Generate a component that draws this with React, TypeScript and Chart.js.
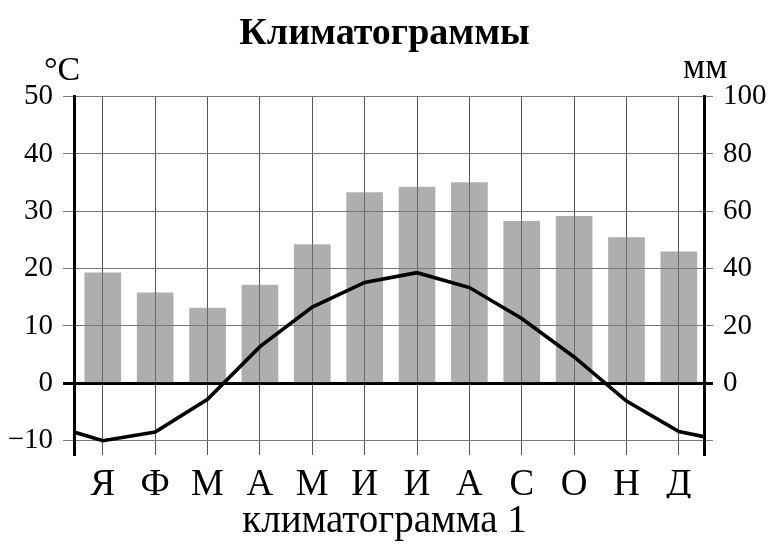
import React, { useEffect, useRef } from "react";
import { Chart, registerables } from "chart.js";

Chart.register(...registerables);

const months = ["Я", "Ф", "М", "А", "М", "И", "И", "А", "С", "О", "Н", "Д"];
const precipitation = [38.5, 31.6, 26.2, 34.3, 48.4, 66.5, 68.4, 70.0, 56.5, 58.2, 50.8, 45.9];
const temperature = [-10.0, -8.5, -2.8, 6.4, 13.3, 17.6, 19.3, 16.7, 11.3, 4.6, -3.1, -8.4];
const tempAtStart = -8.5;
const tempAtEnd = -9.3;

const X_MIN = -0.55;
const X_MAX = 11.48;
const T_MIN = -12.5;
const T_MAX = 50;
const P_MIN = -25;
const P_MAX = 100;

const titleText = "Климатограммы";
const subtitleText = "климатограмма 1";
const leftUnit = "°C";
const rightUnit = "мм";

const FONT = "'Liberation Serif', 'Times New Roman', serif";

const unitsPlugin = {
  id: "units",
  afterDraw(chart: any) {
    const ctx = chart.ctx;
    ctx.save();
    ctx.fillStyle = "#000";
    ctx.textBaseline = "alphabetic";
    ctx.textAlign = "left";
    ctx.font = `34px ${FONT}`;
    ctx.fillText(leftUnit, 44, 80);
    ctx.font = `35px ${FONT}`;
    ctx.fillText(rightUnit, 683, 78);
    ctx.restore();
  },
};

export default function App() {
  const ref = useRef<HTMLCanvasElement | null>(null);

  useEffect(() => {
    if (!ref.current) return;
    const lineData = [
      { x: X_MIN, y: tempAtStart },
      ...temperature.map((t, i) => ({ x: i, y: t })),
      { x: X_MAX, y: tempAtEnd },
    ];
    const barData = precipitation.map((p, i) => ({ x: i, y: p }));

    const chart = new Chart(ref.current, {
      type: "bar",
      data: {
        datasets: [
          {
            type: "line",
            data: lineData,
            borderColor: "#000",
            borderWidth: 3.6,
            pointRadius: 0,
            tension: 0,
            xAxisID: "x",
            yAxisID: "y",
          } as any,
          {
            type: "bar",
            data: barData,
            backgroundColor: "rgba(120,120,120,0.6)",
            borderWidth: 0,
            barThickness: 36,
            xAxisID: "x",
            yAxisID: "y1",
          } as any,
        ],
      },
      options: {
        animation: false,
        responsive: true,
        maintainAspectRatio: false,
        layout: { padding: 0 },
        plugins: {
          legend: { display: false },
          tooltip: { enabled: false },
          title: {
            display: true,
            text: titleText,
            color: "#000",
            font: { family: FONT, size: 38, weight: "bold", lineHeight: 1.2 },
            padding: { top: 11, bottom: 40 },
          },
          subtitle: {
            display: true,
            position: "bottom",
            text: subtitleText,
            color: "#000",
            font: { family: FONT, size: 39, weight: "normal", lineHeight: 1.2 },
            padding: { top: 0, bottom: 0 },
          },
        },
        scales: {
          x: {
            type: "linear",
            offset: false,
            min: X_MIN,
            max: X_MAX,
            ticks: {
              stepSize: 1,
              includeBounds: false,
              autoSkip: false,
              maxRotation: 0,
              padding: 8,
              color: "#000",
              font: { family: FONT, size: 37 },
              callback: (v: any) => months[Math.round(Number(v))] ?? "",
            },
            grid: { offset: false, color: "#555", lineWidth: 1, drawTicks: false },
            border: { display: false },
            afterFit: (s: any) => {
              s.height = 43.2;
            },
          },
          y: {
            type: "linear",
            position: "left",
            min: T_MIN,
            max: T_MAX,
            ticks: {
              stepSize: 10,
              includeBounds: false,
              padding: 10,
              color: "#000",
              font: { family: FONT, size: 29 },
              callback: (v: any) => (Number(v) < 0 ? "\u2212" + Math.abs(Number(v)) : String(v)),
            },
            grid: {
              color: (c: any) => (c.tick && c.tick.value === 0 ? "#000" : "#777"),
              lineWidth: (c: any) => (c.tick && c.tick.value === 0 ? 3 : 1),
              tickLength: 11,
            },
            border: { display: true, color: "#000", width: 3 },
            afterFit: (s: any) => {
              s.width = 74;
            },
          },
          y1: {
            type: "linear",
            position: "right",
            min: P_MIN,
            max: P_MAX,
            ticks: {
              stepSize: 20,
              includeBounds: false,
              padding: 10,
              color: "#000",
              font: { family: FONT, size: 29 },
              callback: (v: any) => (Number(v) < 0 ? "" : String(v)),
            },
            grid: {
              drawOnChartArea: false,
              color: (c: any) => (c.tick && c.tick.value === 0 ? "#000" : "#777"),
              lineWidth: (c: any) => (c.tick && c.tick.value === 0 ? 3 : 1),
              tickLength: 9,
            },
            border: { display: true, color: "#000", width: 3 },
            afterFit: (s: any) => {
              s.width = 65;
            },
          },
        },
      } as any,
      plugins: [unitsPlugin],
    });
    return () => chart.destroy();
  }, []);

  return (
    <div style={{ position: "absolute", left: 0, top: 0, width: 769, height: 545 }}>
      <canvas ref={ref} />
    </div>
  );
}
